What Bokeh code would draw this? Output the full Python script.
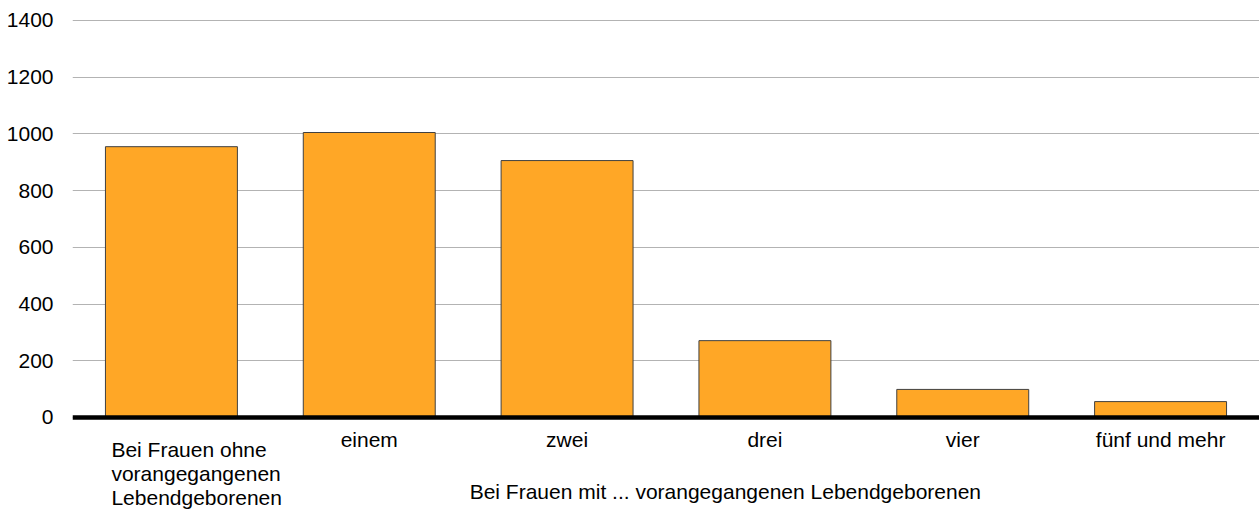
from bokeh.plotting import figure
from bokeh.models import FactorRange, Label, Span, FixedTicker, Range1d
from bokeh.embed import file_html
from bokeh.resources import INLINE

categories = ["ohne", "einem", "zwei", "drei", "vier", "fünf und mehr"]
tick_labels = ["Bei Frauen ohne\nvorangegangenen\nLebendgeborenen", "einem", "zwei", "drei", "vier", "fünf und mehr"]
values = [955, 1005, 906, 271, 99, 56]
y_ticks = [0, 200, 400, 600, 800, 1000, 1200, 1400]
group_label = "Bei Frauen mit ... vorangegangenen Lebendgeborenen"

FONT = "Liberation Sans"
FS = "21px"

# frame covers the whole figure height; the area below 0 holds the category labels
p = figure(width=1259, height=510,
           x_range=FactorRange(factors=categories, range_padding=0),
           y_range=Range1d(-328.0, 1470.5),
           output_backend="svg", toolbar_location=None,
           min_border_left=72, min_border_right=0, min_border_top=0, min_border_bottom=0)
p.outline_line_color = None
p.background_fill_color = "white"

p.vbar(x=categories, top=values, width=0.667, fill_color="#FFA726",
       line_color="#404040", line_width=1)

p.xgrid.grid_line_color = None
p.ygrid.grid_line_color = "#b3b3b3"
p.ygrid.grid_line_width = 1

p.xaxis.visible = False
yax = p.yaxis[0]
yax.ticker = FixedTicker(ticks=y_ticks)
yax.axis_line_color = None
yax.major_tick_line_color = None
yax.minor_tick_line_color = None
yax.major_tick_out = 0
yax.major_tick_in = 0
yax.minor_tick_out = 0
yax.major_label_standoff = 19
yax.major_label_text_font = FONT
yax.major_label_text_font_size = FS
yax.major_label_text_color = "#000000"

p.add_layout(Span(location=0, dimension="width", line_color="black", line_width=4.5))

for i, t in enumerate(tick_labels):
    xc = i + 0.5  # synthetic coordinate of the category centre on the factor range
    lines = t.split("\n")
    if len(lines) > 1:
        for j, ln in enumerate(lines):
            p.add_layout(Label(x=xc, y=0, x_offset=-60, y_offset=-(31.7 + 24.3 * j), text=ln,
                               text_align="left", text_baseline="alphabetic",
                               text_font=FONT, text_font_size=FS, text_color="black"))
    else:
        p.add_layout(Label(x=xc, y=0, y_offset=-21.8, text=t, text_align="center",
                           text_baseline="alphabetic", text_font=FONT, text_font_size=FS,
                           text_color="black"))

p.add_layout(Label(x=3.30, y=0, y_offset=-74.3, text=group_label, text_align="center",
                   text_baseline="alphabetic", text_font=FONT, text_font_size=FS,
                   text_color="black"))

open("out.html", "w").write(file_html(p, INLINE))
